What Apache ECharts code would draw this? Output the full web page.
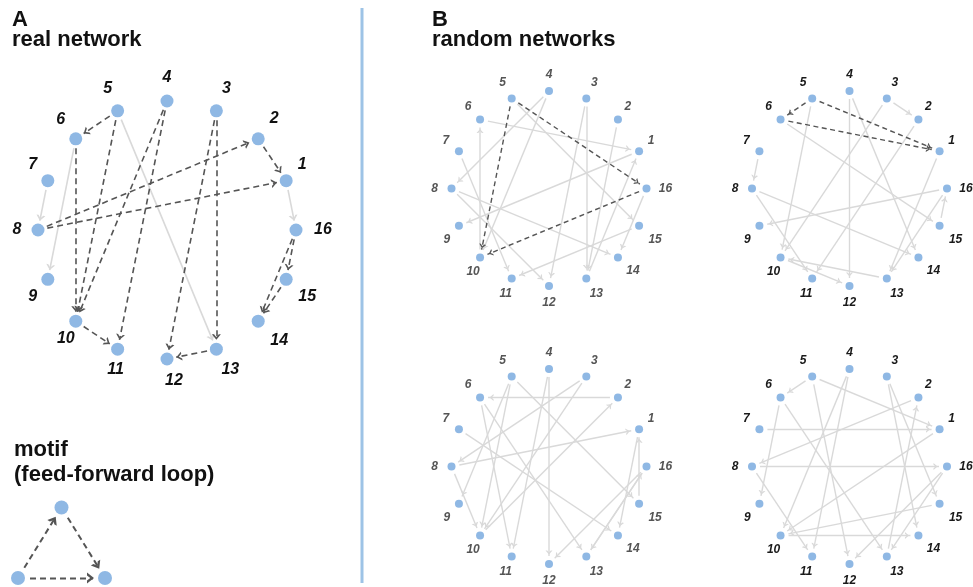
<!DOCTYPE html>
<html>
<head>
<meta charset="utf-8">
<script src="https://cdn.jsdelivr.net/npm/echarts@6/dist/echarts.min.js"></script>
<style>
  html, body { margin: 0; padding: 0; background: #fff; }
  #chart { width: 973px; height: 587px; }
</style>
</head>
<body>
<div id="chart"></div>
<script>
// node ids, laid out clockwise with 4 at the top
const nodeIds = ['1', '2', '3', '4', '5', '6', '7', '8', '9', '10', '11', '12', '13', '14', '15', '16'];

// real network: dashed = edges in feed-forward loops, solid = the rest
const realDashed = [[5, 6], [5, 10], [6, 10], [4, 10], [4, 11], [10, 11], [3, 13], [3, 12], [13, 12],
  [8, 2], [8, 1], [2, 1], [16, 15], [16, 14], [15, 14]];
const realSolid = [[7, 8], [6, 9], [5, 13], [1, 16]];

// random networks
const rand1Dashed = [[5, 16], [5, 10], [16, 10]];
const rand1Solid = [[5, 15], [6, 1], [10, 6], [4, 8], [4, 10], [7, 11], [8, 12], [8, 14], [1, 9],
  [3, 13], [3, 12], [2, 13], [13, 1], [15, 11], [16, 14]];
const rand2Dashed = [[5, 6], [5, 1], [6, 1]];
const rand2Solid = [[5, 10], [6, 15], [3, 2], [3, 10], [4, 12], [4, 14], [7, 8], [8, 11], [8, 14],
  [16, 9], [16, 13], [2, 11], [1, 13], [13, 10], [10, 12], [15, 16]];
const rand3Dashed = [];
const rand3Solid = [[2, 6], [10, 2], [8, 1], [3, 8], [3, 10], [7, 14], [4, 12], [4, 11], [5, 9],
  [5, 10], [5, 15], [6, 11], [6, 13], [8, 10], [16, 12], [16, 13], [15, 1], [13, 16], [1, 14]];
const rand4Dashed = [];
const rand4Solid = [[5, 6], [5, 1], [5, 12], [7, 1], [2, 8], [8, 16], [8, 11], [6, 9], [6, 13],
  [4, 10], [4, 11], [3, 14], [3, 15], [1, 10], [15, 10], [16, 12], [16, 13], [10, 14], [13, 2]];

// motif
const motifNodes = ['X', 'Y', 'Z'];
const motifEdges = [['X', 'Y'], ['Y', 'Z'], ['X', 'Z']];

const NODE_COLOR = '#8fb8e4';
const DARK = '#555555';
const LIGHT = '#d9d9d9';
const FONT = '"Liberation Sans", Arial, sans-serif';

// open chevron pointing up, tip g px behind the box centre; box is S x S px so it is not rescaled
function chevron(S, g, L, w, t) {
  const c = S / 2;
  const arm = Math.sqrt(L * L + w * w / 4);
  const dx = t * arm / L;
  const dy = t * arm / (w / 2);
  const ty = c + g, by = c + g + L;
  const f = function (v) { return v.toFixed(2); };
  return 'path://M0,0M' + S + ',' + S +
    'M' + f(c - w / 2) + ',' + f(by) + 'L' + f(c) + ',' + f(ty) + 'L' + f(c + w / 2) + ',' + f(by) +
    'L' + f(c + w / 2 - dx) + ',' + f(by) + 'L' + f(c) + ',' + f(ty + dy) + 'L' + f(c - w / 2 + dx) + ',' + f(by) + 'Z';
}

// label offsets (px) per node for the big and the small circles
const bigOffsets = [[16, -16], [16, -20], [10, -22], [0, -23], [-10, -22], [-15, -19], [-15, -16], [-21, 0],
  [-15, 17], [-10, 17], [-2, 20], [7, 22], [14, 20], [21, 19], [21, 17], [27, 0]];
const smallOffsets = [[12, -11], [10, -13], [8, -16], [0, -16], [-9, -16], [-12, -13], [-13, -11], [-17, 0],
  [-12, 14], [-7, 14], [-6, 15], [0, 17], [10, 15], [15, 13], [16, 14], [19, 0]];

// nodes on a circle of radius r (pixel units, so the view is not rescaled)
function circleNodes(r, offsets) {
  return nodeIds.map(function (id, k) {
    const ang = (90 + 22.5 * (k + 1 - 4)) * Math.PI / 180;
    const node = { name: id, x: r + r * Math.cos(ang), y: r - r * Math.sin(ang) };
    if (offsets) node.label = { offset: offsets[k] };
    return node;
  });
}

function makeLinks(solid, dashed, w, dash) {
  const links = [];
  solid.forEach(function (e) {
    links.push({ source: String(e[0]), target: String(e[1]),
      lineStyle: { color: LIGHT, width: w, type: 'solid', opacity: 1 } });
  });
  dashed.forEach(function (e) {
    links.push({ source: String(e[0]), target: String(e[1]),
      lineStyle: { color: DARK, width: w, type: dash, opacity: 1 } });
  });
  return links;
}

const baseGraph = {
  type: 'graph', layout: 'none', roam: false, silent: true, animation: false,
  symbol: 'circle', emphasis: { disabled: true }
};

// two layers: edges (with a larger invisible node so ends stop short), then visible nodes + labels
function networkSeries(box, solid, dashed, big, labelColor) {
  const r = box[2] / 2;
  const place = { left: box[0], top: box[1], width: box[2], height: box[2] };
  const edges = Object.assign({}, baseGraph, place, {
    symbolSize: big ? 19 : 16,
    itemStyle: { color: 'rgba(0,0,0,0)' },
    label: { show: false },
    edgeSymbol: ['circle', big ? chevron(24, 0, 5.5, 9, 1.6) : chevron(20, 1.5, 4, 7, 1.3)],
    edgeSymbolSize: [0.1, big ? 24 : 20],
    lineStyle: { opacity: 1, curveness: 0 },
    data: circleNodes(r, null),
    links: makeLinks(solid, dashed, big ? 1.6 : 1.4, big ? [6, 4] : [5, 3.5])
  });
  const nodes = Object.assign({}, baseGraph, place, {
    symbolSize: big ? 13 : 8,
    itemStyle: { color: NODE_COLOR },
    label: {
      show: true, position: 'inside',
      fontSize: big ? 16 : 12, fontWeight: 'bold', fontStyle: 'italic',
      fontFamily: FONT, color: labelColor
    },
    data: circleNodes(r, big ? bigOffsets : smallOffsets),
    links: []
  });
  return [edges, nodes];
}

const motifPos = { X: [0, 70.5], Y: [43.5, 0], Z: [87, 70.5] };
function motifData() {
  return motifNodes.map(function (n) { return { name: n, x: motifPos[n][0], y: motifPos[n][1] }; });
}
const motifPlace = { left: 18, top: 507.5, width: 87, height: 70.5 };
const motifSeries = [
  Object.assign({}, baseGraph, motifPlace, {
    symbolSize: 24,
    itemStyle: { color: 'rgba(0,0,0,0)' },
    label: { show: false },
    edgeSymbol: ['circle', chevron(28, -1, 7, 11, 2.3)],
    edgeSymbolSize: [0.1, 28],
    data: motifData(),
    links: motifEdges.map(function (e) {
      return { source: e[0], target: e[1], lineStyle: { color: DARK, width: 2, type: [6, 4], opacity: 1 } };
    })
  }),
  Object.assign({}, baseGraph, motifPlace, {
    symbolSize: 14,
    itemStyle: { color: NODE_COLOR },
    label: { show: false },
    data: motifData(),
    links: []
  })
];

const headFont = 'bold 22px ' + FONT;
function headText(x, y, text) {
  return { type: 'text', x: x, y: y, silent: true,
    style: { text: text, font: headFont, fill: '#111', verticalAlign: 'middle' } };
}

const chart = echarts.init(document.getElementById('chart'));
chart.setOption({
  backgroundColor: '#fff',
  animation: false,
  graphic: [
    headText(12, 19.7, 'A'),
    headText(12, 40.4, 'real network'),
    headText(432, 19.7, 'B'),
    headText(432, 40.4, 'random networks'),
    headText(14, 450, 'motif'),
    headText(14, 475, '(feed-forward loop)'),
    { type: 'line', silent: true, shape: { x1: 362, y1: 8, x2: 362, y2: 583 },
      style: { stroke: '#9dc3e6', lineWidth: 3 } }
  ],
  series: [].concat(
    networkSeries([38, 101, 258], realSolid, realDashed, true, '#111'),
    networkSeries([451.5, 91, 195], rand1Solid, rand1Dashed, false, '#555'),
    networkSeries([752, 91, 195], rand2Solid, rand2Dashed, false, '#1a1a1a'),
    networkSeries([451.5, 369, 195], rand3Solid, rand3Dashed, false, '#555'),
    networkSeries([752, 369, 195], rand4Solid, rand4Dashed, false, '#1a1a1a'),
    motifSeries
  )
});
</script>
</body>
</html>
